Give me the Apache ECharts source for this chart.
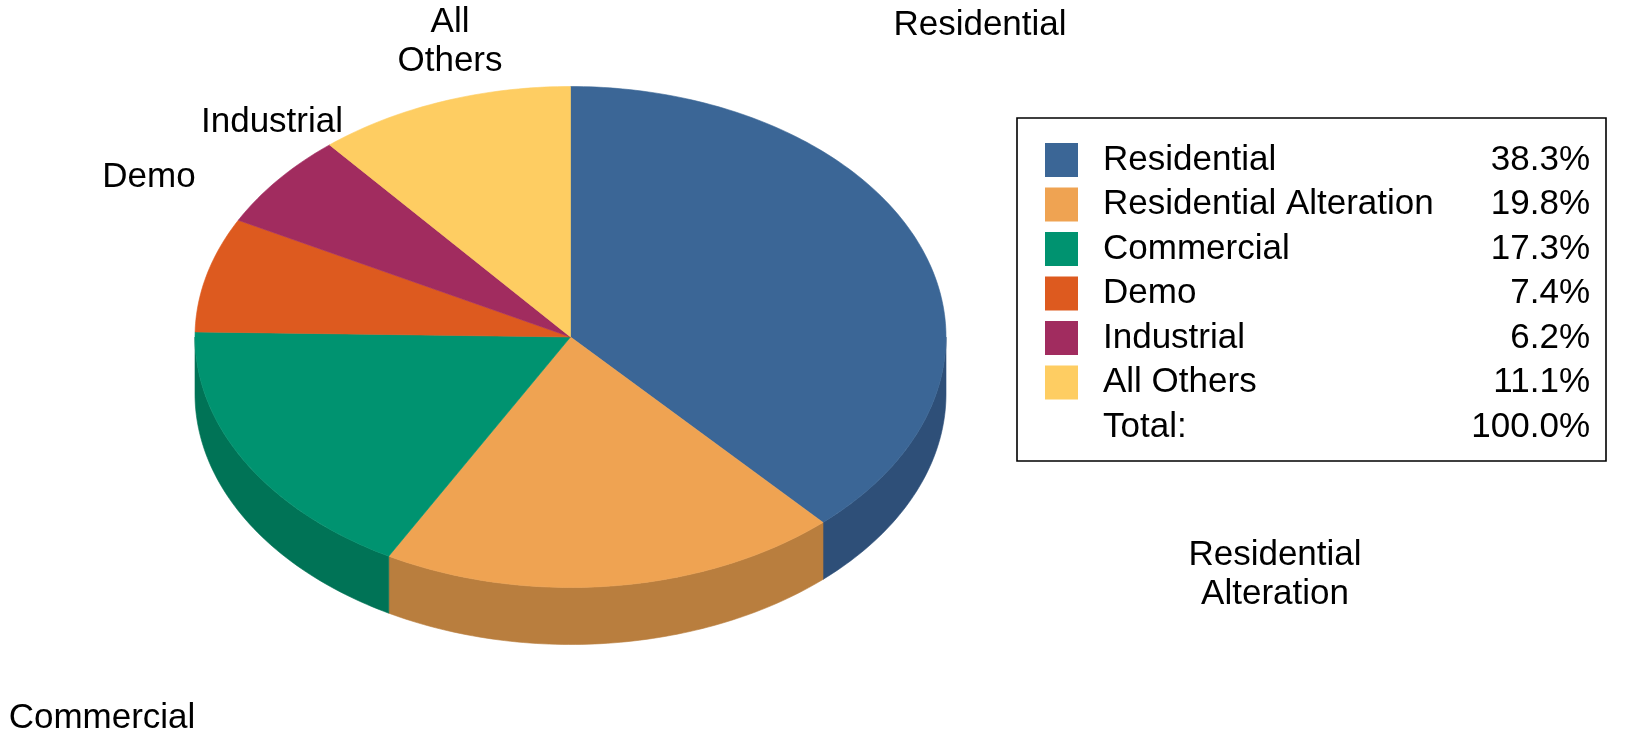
<!DOCTYPE html>
<html>
<head>
<meta charset="utf-8">
<script src="https://cdn.jsdelivr.net/npm/echarts@6/dist/echarts.min.js"></script>
<style>
  body { margin: 0; background: #fff; }
  #chart { width: 1635px; height: 738px; }
</style>
</head>
<body>
<div id="chart"></div>
<script>
// data
var categories = ['Residential', 'Residential Alteration', 'Commercial', 'Demo', 'Industrial', 'All Others'];
var shares = [38.3, 19.8, 17.3, 7.4, 6.2, 11.1];
var totalShare = 100.0; // as printed in the legend (shares are rounded)
var sliceLabels = ['Residential', 'Residential\nAlteration', 'Commercial', 'Demo', 'Industrial', 'All\nOthers'];

// colours (top face / side wall)
var topColors = ['#3b6696', '#efa352', '#009370', '#dd5a1f', '#a12c5f', '#fecd62'];
var sideColors = ['#2e4f78', '#b97e3e', '#007356', '#ab4518', '#7c2249', '#c49e4b'];

// layout
var cx = 570.5, cy = 337, rx = 375.5, ry = 250.5, depth = 57;
var labelPos = [[980, 25], [1275, 575], [102, 718], [149, 177], [272, 122], [450, 42]];
var font = "'Liberation Sans', Arial, sans-serif";

var sum = 0;
for (var i = 0; i < shares.length; i++) sum += shares[i];

var pt = function(deg, dy) {
  var t = deg * Math.PI / 180;
  return [cx + rx * Math.sin(t), cy - ry * Math.cos(t) + dy];
}

var arc = function(a, b, dy) {
  var pts = [];
  var n = Math.max(2, Math.ceil(Math.abs(b - a)));
  for (var k = 0; k <= n; k++) pts.push(pt(a + (b - a) * k / n, dy));
  return pts;
}

var renderSlice = function(params, api) {
  var idx = params.dataIndex;
  var before = 0;
  for (var j = 0; j < idx; j++) before += shares[j];
  var a = before / sum * 360;
  var b = (before + api.value(0)) / sum * 360;
  var children = [];
  // front wall, only the part facing the viewer
  var s = Math.max(a, 90), e = Math.min(b, 270);
  if (e > s) {
    var side = arc(s, e, 0).concat(arc(e, s, depth));
    children.push({
      type: 'polygon',
      shape: { points: side },
      style: { fill: sideColors[idx], stroke: sideColors[idx], lineWidth: 0.6 }
    });
  }
  var top = [[cx, cy]].concat(arc(a, b, 0));
  children.push({
    type: 'polygon',
    shape: { points: top },
    style: { fill: topColors[idx], stroke: topColors[idx], lineWidth: 0.6 }
  });
  return { type: 'group', children: children };
}

// slice labels and the legend table
var graphics = [];
for (var i = 0; i < sliceLabels.length; i++) {
  graphics.push({
    type: 'text', x: labelPos[i][0], y: labelPos[i][1],
    style: {
      text: sliceLabels[i], font: '35px ' + font, fill: '#000',
      align: 'center', verticalAlign: 'middle', lineHeight: 39
    }
  });
}
graphics.push({
  type: 'rect', shape: { x: 1017, y: 118, width: 589, height: 343 },
  style: { fill: 'none', stroke: '#000', lineWidth: 1.6 }
});
var rowY = 160, rowGap = 44.5;
for (var i = 0; i <= categories.length; i++) {
  var y = rowY + i * rowGap;
  var isTotal = i == categories.length;
  if (!isTotal) {
    graphics.push({
      type: 'rect', shape: { x: 1045, y: y - 17, width: 33, height: 34 },
      style: { fill: topColors[i] }
    });
  }
  graphics.push({
    type: 'text', x: 1103, y: y,
    style: {
      text: isTotal ? 'Total:' : categories[i], font: '35px ' + font, fill: '#000',
      align: 'left', verticalAlign: 'middle'
    }
  });
  graphics.push({
    type: 'text', x: 1590, y: y,
    style: {
      text: (isTotal ? totalShare : shares[i]).toFixed(1) + '%', font: '35px ' + font, fill: '#000',
      align: 'right', verticalAlign: 'middle'
    }
  });
}

var chart = echarts.init(document.getElementById('chart'));
chart.setOption({
  animation: false,
  series: [{
    type: 'custom',
    coordinateSystem: 'none',
    renderItem: renderSlice,
    data: shares.map(function(v, i) { return { name: categories[i], value: [v] }; })
  }],
  graphic: graphics
});
</script>
</body>
</html>
